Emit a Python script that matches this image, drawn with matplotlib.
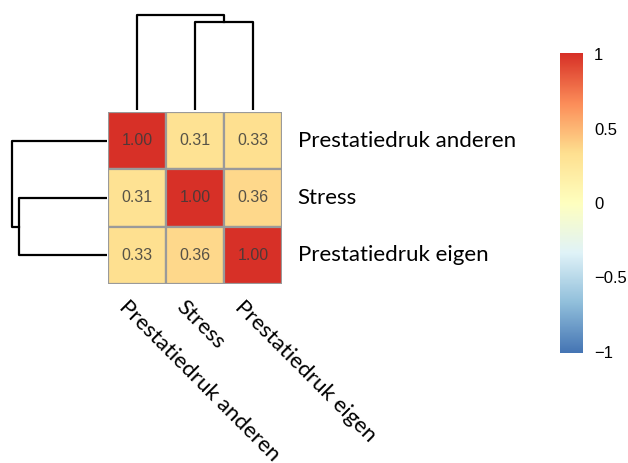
import numpy as np
import matplotlib
matplotlib.use('Agg')
import matplotlib.pyplot as plt
from matplotlib.colors import LinearSegmentedColormap

# data
labels = ['Prestatiedruk anderen', 'Stress', 'Prestatiedruk eigen']
corr = np.array([[1.00, 0.31, 0.33],
                 [0.31, 1.00, 0.36],
                 [0.33, 0.36, 1.00]])
# dendrogram heights: first merge (Stress + eigen), then anderen joins
merge_heights = [88, 95]
cbar_ticks = [1, 0.5, 0, -0.5, -1]
cbar_labels = ['1', '0.5', '0', '\u22120.5', '\u22121']

colors = ['#4575B4', '#91BFDB', '#E0F3F8', '#FFFFBF', '#FEE090', '#FC8D59', '#D73027']
cmap = LinearSegmentedColormap.from_list('rdylbu7', colors)

W, H = 628, 463
fig = plt.figure(figsize=(W / 100, H / 100), dpi=100)


def px_axes(x0, y0, x1, y1):
    return fig.add_axes([x0 / W, 1 - y1 / H, (x1 - x0) / W, (y1 - y0) / H])


# heatmap
ax = px_axes(108, 112, 282, 284)
n = len(labels)
for i in range(n):
    for j in range(n):
        v = corr[i, j]
        ax.add_patch(plt.Rectangle((j, i), 1, 1, facecolor=cmap((v + 1) / 2),
                                   edgecolor='#9a9a9a', linewidth=1.6))
        ax.text(j + 0.5, i + 0.5, f'{v:.2f}', ha='center', va='center',
                fontsize=11.5, family='Liberation Sans', color='#3a3a3a', alpha=0.85)
ax.set_xlim(0, n)
ax.set_ylim(n, 0)
ax.axis('off')

for i, lab in enumerate(labels):
    ax.text(n + 0.27, i + 0.5, lab, ha='left', va='center', fontsize=16, family='Lato')
    ax.text(i + 0.36, n + 0.22, lab, ha='left', va='top', fontsize=16, family='Lato',
            rotation=-45, rotation_mode='anchor')

# top dendrogram
axt = px_axes(108, 13, 282, 110)
pos = [0.5, 1.5, 2.5]
h1, h2 = merge_heights
mid12 = (pos[1] + pos[2]) / 2
axt.plot([pos[1], pos[1], pos[2], pos[2]], [0, h1, h1, 0], color='black', lw=1.6)
axt.plot([pos[0], pos[0], mid12, mid12], [0, h2, h2, h1], color='black', lw=1.6)
axt.set_xlim(0, n)
axt.set_ylim(0, 97)
axt.axis('off')

# left dendrogram
axl = px_axes(10, 112, 107, 284)
axl.plot([0, h1, h1, 0], [pos[1], pos[1], pos[2], pos[2]], color='black', lw=1.6)
axl.plot([0, h2, h2, h1], [pos[0], pos[0], mid12, mid12], color='black', lw=1.6)
axl.set_ylim(n, 0)
axl.set_xlim(97, 0)
axl.axis('off')

# colorbar
axc = px_axes(560, 53, 583, 353)
grad = np.linspace(1, -1, 256).reshape(-1, 1)
axc.imshow(grad, cmap=cmap, vmin=-1, vmax=1, aspect='auto', extent=[0, 1, -1.01, 1.01])
axc.set_xticks([])
axc.yaxis.tick_right()
axc.set_yticks(cbar_ticks)
axc.set_yticklabels(cbar_labels, family='Liberation Sans', fontsize=12)
axc.tick_params(axis='y', length=0, pad=8)
for s in axc.spines.values():
    s.set_visible(False)

fig.savefig('out.png', dpi=100)
